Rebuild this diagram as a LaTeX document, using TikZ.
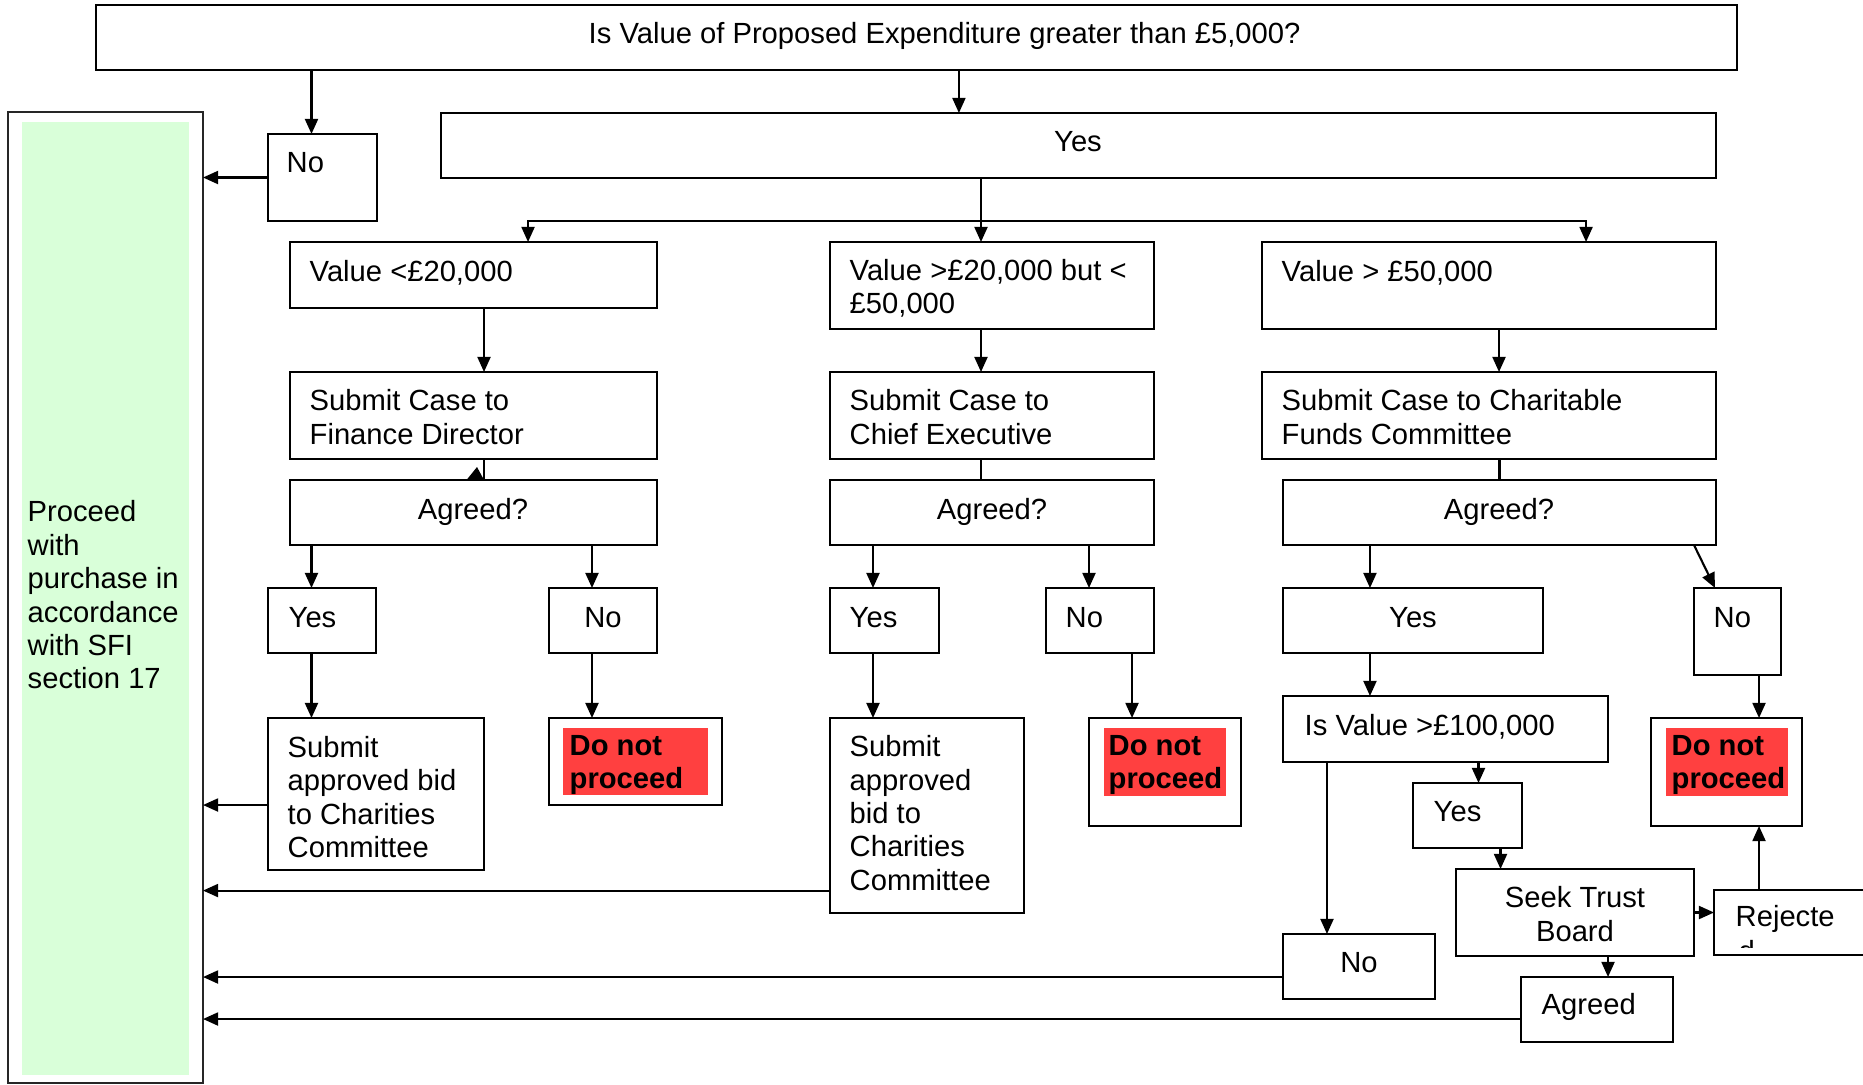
\documentclass[tikz,border=0pt]{standalone}
\usepackage{fontspec}
\setmainfont{Liberation Sans}
\usetikzlibrary{fit,arrows.meta,calc}
\definecolor{grn}{RGB}{217,255,217}
\definecolor{dnp}{RGB}{255,64,64}
\begin{document}
\begin{tikzpicture}[x=0.01cm, y=-0.01cm,
  box/.style={draw, line width=0.65pt, inner sep=0pt, outer sep=0pt},
  arr/.style={-{Triangle[length=4.3pt,width=3.7pt]}, line width=0.6pt},
  ln/.style={line width=0.6pt},
  txt/.style={inner sep=0pt, font=\fontsize{8.3}{9.5}\selectfont, align=left},
  bld/.style={txt, font=\fontsize{8.3}{9.2}\selectfont\bfseries},
  red/.style={fill=dnp, inner sep=0pt, outer sep=0pt}]
\useasboundingbox (0,0) rectangle (1863,1084);

% left column
\node[box, draw=black!85, line width=0.55pt, fit={(8,112) (203,1083)}] (outer) {};
\node[fill=grn, inner sep=0pt, fit={(22,122) (189,1075)}] (green) {};
\node[txt, anchor=west] (tproc) at (27,595) {Proceed\\with\\purchase in\\accordance\\with SFI\\section 17};

% boxes
\node[box, fit={(96,5) (1737,70)}] (top) {};
\node[box, fit={(268,134) (377,221)}] (no0) {};
\node[box, fit={(441,113) (1716,178)}] (yes0) {};
\node[box, fit={(290,242) (657,308)}] (v1) {};
\node[box, fit={(830,242) (1154,329)}] (v2) {};
\node[box, fit={(1262,242) (1716,329)}] (v3) {};
\node[box, fit={(290,372) (657,459)}] (s1) {};
\node[box, fit={(830,372) (1154,459)}] (s2) {};
\node[box, fit={(1262,372) (1716,459)}] (s3) {};
\node[box, fit={(290,480) (657,545)}] (a1) {};
\node[box, fit={(830,480) (1154,545)}] (a2) {};
\node[box, fit={(1283,480) (1716,545)}] (a3) {};
\node[box, fit={(268,588) (376,653)}] (y1) {};
\node[box, fit={(549,588) (657,653)}] (n1) {};
\node[box, fit={(830,588) (939,653)}] (y2) {};
\node[box, fit={(1046,588) (1154,653)}] (n2) {};
\node[box, fit={(1283,588) (1543,653)}] (y3) {};
\node[box, fit={(1694,588) (1781,675)}] (n3) {};
\node[box, fit={(268,718) (484,870)}] (sb1) {};
\node[box, fit={(549,718) (722,805)}] (d1) {};
\node[red, fit={(563,728) (708,795)}] (r1) {};
\node[box, fit={(830,718) (1024,913)}] (sb2) {};
\node[box, fit={(1089,718) (1241,826)}] (d2) {};
\node[red, fit={(1104,728) (1226,796)}] (r2) {};
\node[box, fit={(1283,696) (1608,762)}] (iv) {};
\node[box, fit={(1413,783) (1522,848)}] (yv) {};
\node[box, fit={(1456,869) (1694,956)}] (seek) {};
\node[box, fit={(1714,890) (1890,955)}] (rej) {};
\node[box, fit={(1651,718) (1802,826)}] (d3) {};
\node[red, fit={(1666,728) (1788,796)}] (r3) {};
\node[box, fit={(1283,934) (1435,999)}] (nv) {};
\node[box, fit={(1521,977) (1673,1042)}] (ag) {};

% texts
\node[txt, anchor=west] (ttop) at (588,36) {Is Value of Proposed Expenditure greater than £5,000?};
\node[txt, anchor=west] (tno0) at (286,163) {No};
\node[txt] (tyes0) at (1078,142) {Yes};
\node[txt, anchor=west] (tv1) at (309,273) {Value <£20,000};
\node[txt, anchor=west] (tv2) at (849,288) {Value >£20,000 but <\\£50,000};
\node[txt, anchor=west] (tv3) at (1281,273) {Value > £50,000};
\node[txt, anchor=west] (ts1) at (309,417) {Submit Case to\\Finance Director};
\node[txt, anchor=west] (ts2) at (849,417) {Submit Case to\\Chief Executive};
\node[txt, anchor=west] (ts3) at (1281,417) {Submit Case to Charitable\\Funds Committee};
\node[txt] (ta1) at (473,512) {Agreed?};
\node[txt] (ta2) at (992,512) {Agreed?};
\node[txt] (ta3) at (1499,512) {Agreed?};
\node[txt, anchor=west] (ty1) at (288,618) {Yes};
\node[txt] (tn1) at (603,618) {No};
\node[txt, anchor=west] (ty2) at (849,618) {Yes};
\node[txt, anchor=west] (tn2) at (1065,618) {No};
\node[txt] (ty3) at (1413,618) {Yes};
\node[txt, anchor=west] (tn3) at (1713,618) {No};
\node[txt, anchor=west] (tsb1) at (287,797) {Submit\\approved bid\\to Charities\\Committee};
\node[bld, anchor=west] (td1) at (569,765) {Do not\\proceed};
\node[txt, anchor=west] (tsb2) at (849,813) {Submit\\approved\\bid to\\Charities\\Committee};
\node[bld, anchor=west] (td2) at (1108,765) {Do not\\proceed};
\node[bld, anchor=west] (td3) at (1671,765) {Do not\\proceed};
\node[txt, anchor=west] (tiv) at (1304,727) {Is Value >£100,000};
\node[txt] (tnv) at (1359,963) {No};
\node[txt, anchor=west] (tyv) at (1433,812) {Yes};
\node[txt, align=center] (tseek) at (1575,914) {Seek Trust\\Board};
\node[txt, anchor=west] (trej) at (1735,919) {Rejecte};
\begin{scope}
  \clip (1700,930) rectangle (1800,947.5);
  \node[txt, anchor=base west] (trejd) at (1738,961) {d};
\end{scope}
\node[txt, anchor=west] (tag) at (1541,1007) {Agreed};

% connectors
\draw[arr] ([xshift=-0.11cm]no0.north |- top.south) -- ([xshift=-0.11cm]no0.north);
\draw[arr] ([xshift=-1.195cm]yes0.north |- top.south) -- ([xshift=-1.195cm]yes0.north);
\draw[arr] (no0.west) -- (no0.west -| outer.east);

\draw[arr] ([xshift=-0.11cm]v2.north |- yes0.south) -- ([xshift=-0.11cm]v2.north);
\coordinate (br) at (981,221);
\draw[arr] (br) -| ([xshift=0.545cm]v1.north);
\draw[arr] (br) -| ([xshift=0.97cm]v3.north);

\draw[arr] ([xshift=0.105cm]s1.north |- v1.south) -- ([xshift=0.105cm]s1.north);
\draw[arr] ([xshift=-0.11cm]s2.north |- v2.south) -- ([xshift=-0.11cm]s2.north);
\draw[arr] ([xshift=0.1cm]s3.north |- v3.south) -- ([xshift=0.1cm]s3.north);

\draw[ln] ([xshift=0.105cm]a1.north |- s1.south) -- ([xshift=0.105cm]a1.north);
\fill ([xshift=-0.07cm]a1.north) -- ([xshift=0.105cm]a1.north) -- ([xshift=0.035cm,yshift=0.13cm]a1.north) -- cycle;
\draw[ln] ([xshift=-0.11cm]a2.north |- s2.south) -- ([xshift=-0.11cm]a2.north);
\draw[ln] (a3.north |- s3.south) -- (a3.north);

\draw[arr] ([xshift=-0.105cm]y1.north |- a1.south) -- ([xshift=-0.105cm]y1.north);
\draw[arr] ([xshift=-0.11cm]n1.north |- a1.south) -- ([xshift=-0.11cm]n1.north);
\draw[arr] ([xshift=-0.115cm]y2.north |- a2.south) -- ([xshift=-0.115cm]y2.north);
\draw[arr] ([xshift=-0.11cm]n2.north |- a2.south) -- ([xshift=-0.11cm]n2.north);
\draw[arr] ([xshift=-0.43cm]y3.north |- a3.south) -- ([xshift=-0.43cm]y3.north);
\draw[arr] ([xshift=-0.22cm]a3.south east) -- ([xshift=0.21cm]n3.north west);

\draw[arr] ([xshift=-0.105cm]y1.south) -- ([xshift=-0.105cm]y1.south |- sb1.north);
\draw[arr] ([xshift=-0.11cm]n1.south) -- ([xshift=-0.11cm]n1.south |- d1.north);
\draw[arr] ([xshift=-0.115cm]y2.south) -- ([xshift=-0.115cm]y2.south |- sb2.north);
\draw[arr] ([xshift=0.32cm]n2.south) -- ([xshift=0.32cm]n2.south |- d2.north);
\draw[arr] ([xshift=-0.43cm]y3.south) -- ([xshift=-0.43cm]y3.south |- iv.north);
\draw[arr] ([xshift=0.215cm]n3.south) -- ([xshift=0.215cm]n3.south |- d3.north);

\draw[arr] ([yshift=-0.11cm]sb1.west) -- ([yshift=-0.11cm]sb1.west -| outer.east);
\draw[arr] ([yshift=-0.75cm]sb2.west) -- ([yshift=-0.75cm]sb2.west -| outer.east);
\draw[arr] ([yshift=-0.105cm]nv.west) -- ([yshift=-0.105cm]nv.west -| outer.east);
\draw[arr] ([yshift=-0.095cm]ag.west) -- ([yshift=-0.095cm]ag.west -| outer.east);

\draw[arr] ([xshift=-0.32cm]nv.north |- iv.south) -- ([xshift=-0.32cm]nv.north);
\draw[arr] ([xshift=0.11cm]yv.north |- iv.south) -- ([xshift=0.11cm]yv.north);
\draw[arr] ([xshift=0.33cm]yv.south) -- ([xshift=0.33cm]yv.south |- seek.north);
\draw[arr] (seek.east) -- (seek.east -| rej.west);
\draw[arr] ([xshift=0.33cm]seek.south) -- ([xshift=0.33cm]seek.south |- ag.north);
\draw[arr] ([xshift=0.325cm]d3.south |- rej.north) -- ([xshift=0.325cm]d3.south);
\end{tikzpicture}
\end{document}
